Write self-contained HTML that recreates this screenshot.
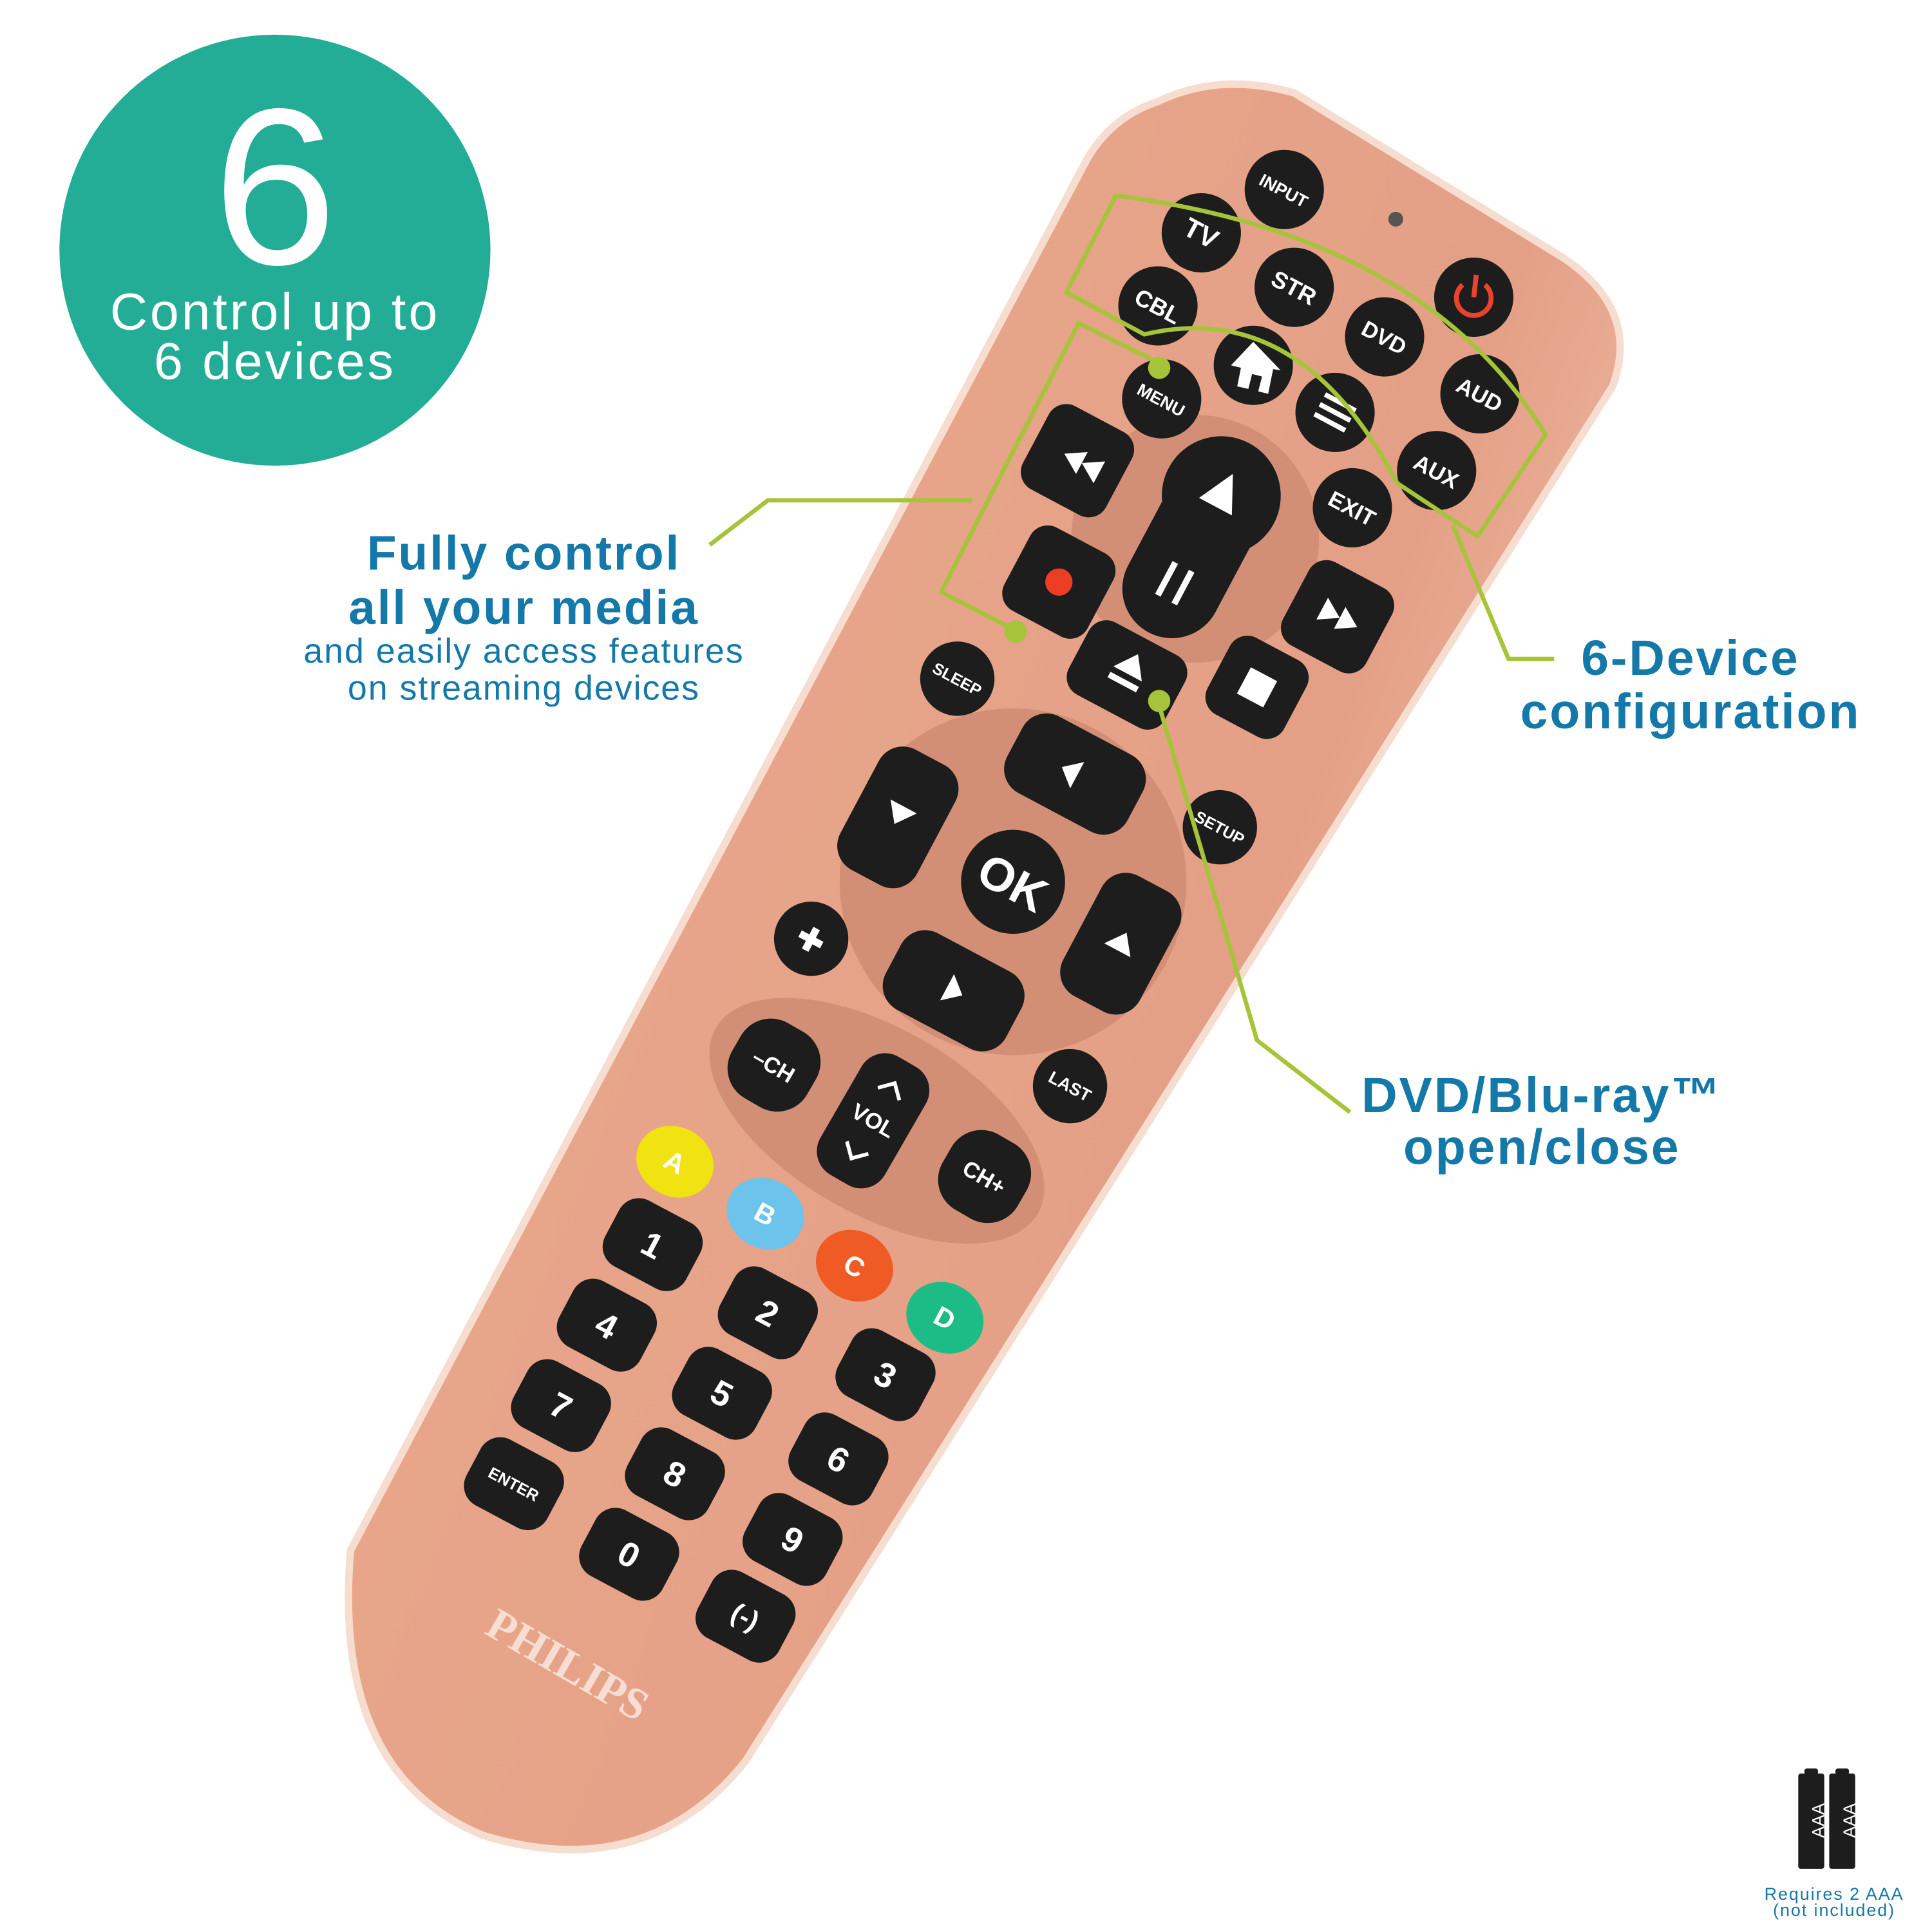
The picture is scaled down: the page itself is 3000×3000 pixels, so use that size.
<!DOCTYPE html>
<html><head><meta charset="utf-8"><style>
html,body{margin:0;padding:0;background:#fff;}
svg{display:block;}
.b text{font-family:"Liberation Sans",sans-serif;font-weight:bold;fill:#fff;text-anchor:middle;}
.lbl{font-family:"Liberation Sans",sans-serif;font-weight:bold;fill:#1479a8;text-anchor:middle;letter-spacing:1.5px;}
.sub{font-family:"Liberation Sans",sans-serif;fill:#1479a8;text-anchor:middle;letter-spacing:1px;}
</style></head><body>
<svg width="3000" height="3000" viewBox="0 0 1560 1560" xmlns="http://www.w3.org/2000/svg">
<defs>
<linearGradient id="rg" x1="0" y1="0" x2="1" y2="0.55">
<stop offset="0" stop-color="#f2c2ad"/><stop offset="0.3" stop-color="#e8a68b"/><stop offset="0.75" stop-color="#e4a086"/><stop offset="1" stop-color="#f0c0aa"/>
</linearGradient>
</defs>
<rect width="1560" height="1560" fill="#fff"/>
<!-- badge -->
<circle cx="222" cy="202" r="174" fill="#23ad97"/>
<text x="222" y="213" font-family="Liberation Sans,sans-serif" font-size="180" fill="#fff" text-anchor="middle">6</text>
<text x="222" y="266" font-family="Liberation Sans,sans-serif" font-size="42" letter-spacing="2" fill="#fff" text-anchor="middle">Control up to</text>
<text x="222" y="306" font-family="Liberation Sans,sans-serif" font-size="42" letter-spacing="2" fill="#fff" text-anchor="middle">6 devices</text>

<!-- remote body -->
<path d="M935,82 Q985,58 1045,75 L1262,208 Q1325,250 1302,312 L602,1422 Q522,1522 390,1482 Q268,1432 283,1252 L878,128 Q898,94 935,82 Z" fill="url(#rg)" stroke="#f7dcd0" stroke-width="6"/>
<circle cx="1127" cy="177" r="6" fill="#555"/>
<!-- rings -->
<circle cx="965" cy="435" r="100" fill="#d38f75"/>
<circle cx="818" cy="712" r="140" fill="#d38f75"/>
<ellipse cx="708" cy="905" rx="150" ry="75" transform="rotate(30 708 905)" fill="#d38f75"/>

<g class="b">
<g transform="rotate(28 1037 153)"><circle cx="1037" cy="153" r="32" fill="#1d1d1d"/><text x="1037" y="159" font-size="14">INPUT</text></g>
<g transform="rotate(28 970 188)"><circle cx="970" cy="188" r="32" fill="#1d1d1d"/><text x="970" y="196" font-size="22">TV</text></g>
<g transform="rotate(28 1045 232)"><circle cx="1045" cy="232" r="32" fill="#1d1d1d"/><text x="1045" y="239" font-size="19">STR</text></g>
<g transform="rotate(28 935 247)"><circle cx="935" cy="247" r="32" fill="#1d1d1d"/><text x="935" y="254" font-size="19">CBL</text></g>
<g transform="rotate(28 1118 272)"><circle cx="1118" cy="272" r="32" fill="#1d1d1d"/><text x="1118" y="279" font-size="18">DVD</text></g>
<g><circle cx="1190" cy="240" r="32" fill="#1d1d1d"/><path d="M1181,230 A14,14 0 1 0 1199,230" fill="none" stroke="#e8432e" stroke-width="4"/><line x1="1192" y1="222" x2="1190" y2="240" stroke="#e8432e" stroke-width="4"/></g>
<g><circle cx="1012" cy="295" r="32" fill="#1d1d1d"/><path d="M1012,276 L994,295 L1002,297 L999,312 L1008,314 L1011,302 L1019,304 L1016,316 L1024,318 L1028,298 L1034,299 Z" fill="#fff"/></g>
<g transform="rotate(28 938 322)"><circle cx="938" cy="322" r="32" fill="#1d1d1d"/><text x="938" y="328" font-size="14">MENU</text></g>
<g transform="rotate(28 1078 333)"><circle cx="1078" cy="333" r="32" fill="#1d1d1d"/><rect x="1064" y="322" width="28" height="4" fill="#fff"/><rect x="1064" y="331" width="28" height="4" fill="#fff"/><rect x="1064" y="340" width="28" height="4" fill="#fff"/></g>
<g transform="rotate(28 1195 318)"><circle cx="1195" cy="318" r="32" fill="#1d1d1d"/><text x="1195" y="325" font-size="18">AUD</text></g>
<g transform="rotate(28 1160 380)"><circle cx="1160" cy="380" r="32" fill="#1d1d1d"/><text x="1160" y="387" font-size="18">AUX</text></g>
<g transform="rotate(28 1092 410)"><circle cx="1092" cy="410" r="32" fill="#1d1d1d"/><text x="1092" y="417" font-size="18">EXIT</text></g>
<g transform="rotate(28 773 548)"><circle cx="773" cy="548" r="30" fill="#1d1d1d"/><text x="773" y="553" font-size="13">SLEEP</text></g>
<g transform="rotate(28 985 668)"><circle cx="985" cy="668" r="30" fill="#1d1d1d"/><text x="985" y="673" font-size="13">SETUP</text></g>
<g transform="rotate(28 655 758)"><circle cx="655" cy="758" r="30" fill="#1d1d1d"/><text x="655" y="768" font-size="26">✚</text></g>
<g transform="rotate(28 864 877)"><circle cx="864" cy="877" r="30" fill="#1d1d1d"/><text x="864" y="882" font-size="14">LAST</text></g>

<g transform="rotate(28 870 372)"><rect x="832" y="334" width="76" height="76" rx="16" fill="#1d1d1d"/><path d="M858,372 l16,-10 v20 z M874,372 l16,-10 v20 z" fill="#fff"/></g>
<g transform="rotate(28 855 470)"><rect x="817" y="432" width="76" height="76" rx="16" fill="#1d1d1d"/><circle cx="855" cy="470" r="11" fill="#ec3e24"/></g>
<g transform="rotate(28 1080 498)"><rect x="1042" y="460" width="76" height="76" rx="16" fill="#1d1d1d"/><path d="M1066,488 l16,10 l-16,10 z M1082,488 l16,10 l-16,10 z" fill="#fff"/></g>
<g transform="rotate(28 1015 555)"><rect x="980" y="520" width="70" height="70" rx="16" fill="#1d1d1d"/><rect x="1003" y="543" width="24" height="24" fill="#fff"/></g>
<g transform="rotate(28 910 545)"><rect x="866" y="512" width="88" height="66" rx="16" fill="#1d1d1d"/><path d="M897,544 l13,-18 l13,18 z" fill="#fff"/><rect x="897" y="549" width="26" height="5" fill="#fff"/></g>
<g transform="rotate(28 965 440)"><rect x="925" y="360" width="80" height="160" rx="40" fill="#1d1d1d"/><circle cx="965" cy="395" r="48" fill="#1d1d1d"/><path d="M950,405 l15,-30 l15,30 z" fill="#fff"/><rect x="955" y="460" width="5" height="30" fill="#fff"/><rect x="970" y="460" width="5" height="30" fill="#fff"/></g>

<g transform="rotate(28 868 625)"><rect x="813" y="590" width="110" height="70" rx="22" fill="#1d1d1d"/><path d="M856,625 l14,-12 v24 z" fill="#fff"/></g>
<g transform="rotate(28 725 660)"><rect x="690" y="605" width="70" height="110" rx="22" fill="#1d1d1d"/><path d="M713,650 h24 l-12,16 z" fill="#fff"/></g>
<g transform="rotate(28 905 762)"><rect x="870" y="707" width="70" height="110" rx="22" fill="#1d1d1d"/><path d="M893,768 h24 l-12,-16 z" fill="#fff"/></g>
<g transform="rotate(28 770 800)"><rect x="715" y="765" width="110" height="70" rx="22" fill="#1d1d1d"/><path d="M778,800 l-14,-12 v24 z" fill="#fff"/></g>
<g transform="rotate(28 818 712)"><circle cx="818" cy="712" r="42" fill="#1d1d1d"/><text x="818" y="726" font-size="38">OK</text></g>

<g transform="rotate(30 625 860)"><rect x="590" y="825" width="70" height="70" rx="28" fill="#1d1d1d"/><text x="625" y="867" font-size="18">–CH</text></g>
<g transform="rotate(30 705 905)"><rect x="675" y="850" width="60" height="110" rx="22" fill="#1d1d1d"/><text x="705" y="911" font-size="18">VOL</text><path d="M695,880 l10,-10 l10,10 M695,930 l10,10 l10,-10" stroke="#fff" stroke-width="3" fill="none"/></g>
<g transform="rotate(30 795 950)"><rect x="760" y="915" width="70" height="70" rx="28" fill="#1d1d1d"/><text x="795" y="957" font-size="18">CH+</text></g>

<g transform="rotate(28 545 938)"><ellipse cx="545" cy="938" rx="32" ry="28" fill="#f1e212"/><text x="545" y="946" font-size="22">A</text></g>
<g transform="rotate(28 618 980)"><ellipse cx="618" cy="980" rx="32" ry="28" fill="#6cc3ec"/><text x="618" y="988" font-size="22">B</text></g>
<g transform="rotate(28 690 1022)"><ellipse cx="690" cy="1022" rx="32" ry="28" fill="#f05a24"/><text x="690" y="1030" font-size="22">C</text></g>
<g transform="rotate(28 763 1064)"><ellipse cx="763" cy="1064" rx="32" ry="28" fill="#1dbb85"/><text x="763" y="1072" font-size="22">D</text></g>

<g transform="rotate(28 527 1005)"><rect x="490" y="975" width="74" height="60" rx="18" fill="#1d1d1d"/><text x="527" y="1015" font-size="28">1</text></g>
<g transform="rotate(28 620 1060)"><rect x="583" y="1030" width="74" height="60" rx="18" fill="#1d1d1d"/><text x="620" y="1070" font-size="28">2</text></g>
<g transform="rotate(28 715 1110)"><rect x="678" y="1080" width="74" height="60" rx="18" fill="#1d1d1d"/><text x="715" y="1120" font-size="28">3</text></g>
<g transform="rotate(28 490 1070)"><rect x="453" y="1040" width="74" height="60" rx="18" fill="#1d1d1d"/><text x="490" y="1080" font-size="28">4</text></g>
<g transform="rotate(28 583 1125)"><rect x="546" y="1095" width="74" height="60" rx="18" fill="#1d1d1d"/><text x="583" y="1135" font-size="28">5</text></g>
<g transform="rotate(28 677 1178)"><rect x="640" y="1148" width="74" height="60" rx="18" fill="#1d1d1d"/><text x="677" y="1188" font-size="28">6</text></g>
<g transform="rotate(28 453 1135)"><rect x="416" y="1105" width="74" height="60" rx="18" fill="#1d1d1d"/><text x="453" y="1145" font-size="28">7</text></g>
<g transform="rotate(28 545 1190)"><rect x="508" y="1160" width="74" height="60" rx="18" fill="#1d1d1d"/><text x="545" y="1200" font-size="28">8</text></g>
<g transform="rotate(28 640 1243)"><rect x="603" y="1213" width="74" height="60" rx="18" fill="#1d1d1d"/><text x="640" y="1253" font-size="28">9</text></g>
<g transform="rotate(28 415 1198)"><rect x="378" y="1168" width="74" height="60" rx="18" fill="#1d1d1d"/><text x="415" y="1203" font-size="13">ENTER</text></g>
<g transform="rotate(28 508 1255)"><rect x="471" y="1225" width="74" height="60" rx="18" fill="#1d1d1d"/><text x="508" y="1265" font-size="28">0</text></g>
<g transform="rotate(28 602 1305)"><rect x="565" y="1275" width="74" height="60" rx="18" fill="#1d1d1d"/><text x="602" y="1313" font-size="22">(-)</text></g>
</g>
<text x="458" y="1356" transform="rotate(30 458 1345)" font-family="Liberation Serif,serif" font-weight="bold" font-size="36" fill="#f8ddd2" text-anchor="middle">PHILIPS</text>

<g fill="none" stroke="#a5c43a" stroke-width="3.5" stroke-linejoin="round">
<path d="M901,158 L861,236 L924,270 Q1050,240 1128,390 L1193,433 L1248,351 Q1150,190 901,158 Z"/>
<polyline points="1173,424 1218,532 1255,532"/>
<polyline points="936,293 871,261 760,478 818,508"/>
<polyline points="573,440 620,404 785,404"/>
<polyline points="934,563 1015,840 1090,898"/>
</g>
<g fill="#a5c43a"><circle cx="936" cy="297" r="9"/><circle cx="820" cy="510" r="9"/><circle cx="936" cy="566" r="9"/></g>

<text class="lbl" x="423" y="460" font-size="39">Fully control</text>
<text class="lbl" x="423" y="504" font-size="39">all your media</text>
<text class="sub" x="423" y="535" font-size="28">and easily access features</text>
<text class="sub" x="423" y="565" font-size="28">on streaming devices</text>
<text class="lbl" x="1365" y="545" font-size="40">6-Device</text>
<text class="lbl" x="1365" y="588" font-size="40">configuration</text>
<text class="lbl" x="1245" y="898" font-size="40">DVD/Blu-ray™</text>
<text class="lbl" x="1245" y="940" font-size="40">open/close</text>

<rect x="1452" y="1432" width="21" height="77" rx="2" fill="#1d1d1d"/><rect x="1457" y="1428" width="11" height="5" rx="2" fill="#1d1d1d"/>
<rect x="1477" y="1432" width="21" height="77" rx="2" fill="#1d1d1d"/><rect x="1482" y="1428" width="11" height="5" rx="2" fill="#1d1d1d"/>
<text x="1468" y="1475" transform="rotate(-90 1468 1470)" font-family="Liberation Sans,sans-serif" font-size="14" fill="#fff" text-anchor="middle">AAA</text>
<text x="1493" y="1475" transform="rotate(-90 1493 1470)" font-family="Liberation Sans,sans-serif" font-size="14" fill="#fff" text-anchor="middle">AAA</text>
<text class="sub" x="1481" y="1534" font-size="14" letter-spacing="0">Requires 2 AAA</text>
<text class="sub" x="1481" y="1547" font-size="14" letter-spacing="0">(not included)</text>
</svg>
</body></html>
